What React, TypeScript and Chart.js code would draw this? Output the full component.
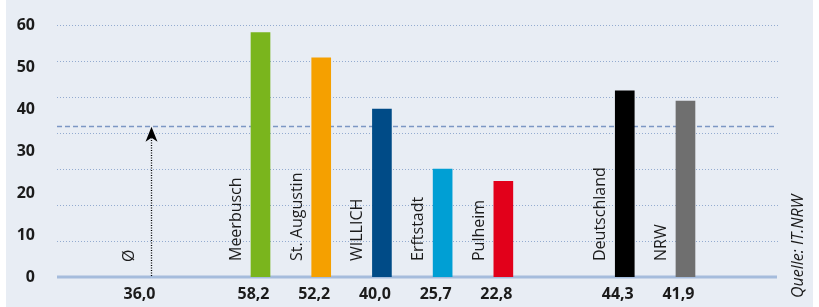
import React, { useEffect, useRef } from "react";
import { Chart, registerables } from "chart.js";

Chart.register(...registerables);

// ---- data ----
const categories = ["Meerbusch", "St. Augustin", "WILLICH", "Erftstadt", "Pulheim", "Deutschland", "NRW"];
const values = [58.2, 52.2, 40.0, 25.7, 22.8, 44.3, 41.9];
const barColors = ["#7ab51d", "#f5a000", "#004b87", "#009fd4", "#e2001a", "#000000", "#6f6f6f"];
const averageLabel = "Ø";
const averageValue = 36.0;
const yTickValues = [0, 10, 20, 30, 40, 50, 60];
const sourceText = "Quelle: IT.NRW";

// ---- layout ----
const slotOf = (i: number) => (i < 5 ? i : i + 1); // gap between the towns and the comparison regions
const AVG_SLOT = -1.8;
const GRID_LINES = 7; // decorative dotted grid divides the plot height into 7 bands
const TEXT = "#1b1b1b";
const FONT = "'Open Sans', 'DejaVu Sans', sans-serif";
const fmt = (v: number) => v.toFixed(1).replace(".", ",");

const overlay = {
  id: "overlay",
  beforeDatasetsDraw(chart: any) {
    const { ctx, chartArea, scales } = chart;
    const y = scales.y;
    ctx.save();
    // dotted decorative grid
    ctx.strokeStyle = "#93abd0";
    ctx.lineWidth = 1;
    ctx.setLineDash([1, 2]);
    for (let k = 1; k <= GRID_LINES; k++) {
      const gy = Math.round(y.getPixelForValue((y.max * k) / GRID_LINES)) + 0.5;
      ctx.beginPath();
      ctx.moveTo(chartArea.left, gy);
      ctx.lineTo(chartArea.right + 1, gy);
      ctx.stroke();
    }
    ctx.setLineDash([]);
    // baseline
    ctx.strokeStyle = "#a5bcdc";
    ctx.lineWidth = 3;
    ctx.beginPath();
    ctx.moveTo(chartArea.left, chartArea.bottom);
    ctx.lineTo(chartArea.right - 1, chartArea.bottom);
    ctx.stroke();
    // average dashed line
    const ay = Math.round(y.getPixelForValue(averageValue)) + 0.5;
    ctx.strokeStyle = "#7c97c4";
    ctx.lineWidth = 1.5;
    ctx.setLineDash([5, 3]);
    ctx.beginPath();
    ctx.moveTo(chartArea.left, ay);
    ctx.lineTo(chartArea.right - 1, ay);
    ctx.stroke();
    ctx.restore();
  },
  afterDatasetsDraw(chart: any) {
    const { ctx, chartArea, scales } = chart;
    const x = scales.x;
    const y = scales.y;
    ctx.save();
    ctx.fillStyle = TEXT;
    const labelY = chartArea.bottom + 22;
    // value labels
    ctx.font = `bold 16px ${FONT}`;
    ctx.textAlign = "center";
    ctx.textBaseline = "alphabetic";
    values.forEach((v, i) => {
      const cx = x.getPixelForValue(slotOf(i));
      ctx.fillText(fmt(v), cx - 7, labelY);
    });
    const axPix = Math.round(x.getPixelForValue(AVG_SLOT)) + 0.5;
    ctx.fillText(fmt(averageValue), axPix - 12, labelY);

    // rotated category labels
    ctx.font = `16px ${FONT}`;
    const drawRot = (t: string, px: number, py: number) => {
      ctx.save();
      ctx.translate(px, py);
      ctx.rotate(-Math.PI / 2);
      ctx.textAlign = "left";
      ctx.textBaseline = "alphabetic";
      ctx.fillText(t, 0, 0);
      ctx.restore();
    };
    categories.forEach((c, i) => {
      const cx = x.getPixelForValue(slotOf(i));
      drawRot(c, cx - 19.5, chartArea.bottom - 16);
    });
    drawRot(averageLabel, axPix - 18, chartArea.bottom - 15);

    // arrow
    const tipY = y.getPixelForValue(averageValue) + 1;
    ctx.strokeStyle = "#000";
    ctx.lineWidth = 1.3;
    ctx.setLineDash([1, 1.5]);
    ctx.beginPath();
    ctx.moveTo(axPix, chartArea.bottom - 1);
    ctx.lineTo(axPix, tipY + 11);
    ctx.stroke();
    ctx.setLineDash([]);
    ctx.fillStyle = "#000";
    ctx.beginPath();
    ctx.moveTo(axPix, tipY);
    ctx.lineTo(axPix + 6, tipY + 15);
    ctx.lineTo(axPix, tipY + 11);
    ctx.lineTo(axPix - 6, tipY + 15);
    ctx.closePath();
    ctx.fill();

    // source
    ctx.fillStyle = TEXT;
    ctx.font = `italic 16px ${FONT}`;
    drawRot(sourceText, chart.width - 10, chart.height - 9);
    ctx.restore();
  },
};

export default function App() {
  const ref = useRef<HTMLCanvasElement>(null);
  useEffect(() => {
    if (!ref.current) return;
    const chart = new Chart(ref.current, {
      type: "bar",
      data: {
        datasets: [
          {
            data: values.map((v, i) => ({ x: slotOf(i), y: v })),
            backgroundColor: barColors,
            borderWidth: 0,
            barThickness: 19,
          },
        ],
      },
      options: {
        animation: false,
        responsive: false,
        devicePixelRatio: 1,
        layout: { padding: { left: 0, right: 35, top: 25, bottom: 30 } },
        plugins: { legend: { display: false }, tooltip: { enabled: false }, title: { display: false } },
        scales: {
          x: {
            type: "linear",
            display: false,
            offset: false,
            min: -3.352,
            max: 8.524,
          },
          y: {
            type: "linear",
            position: "left",
            min: 0,
            max: 60,
            afterBuildTicks: (s: any) => {
              s.ticks = yTickValues.map((v) => ({ value: v }));
            },
            ticks: {
              color: TEXT,
              font: { family: FONT, size: 16, weight: "bold" },
              padding: 14,
            },
            grid: { display: false },
            border: { display: false },
            afterFit: (s: any) => {
              s.width = 51;
            },
          },
        },
      },
      plugins: [overlay],
    } as any);
    return () => chart.destroy();
  }, []);
  return (
    <div style={{ position: "absolute", left: 6, top: 0, width: 807, height: 307, background: "#e8edf4" }}>
      <canvas ref={ref} width={807} height={307} style={{ display: "block" }} />
    </div>
  );
}
